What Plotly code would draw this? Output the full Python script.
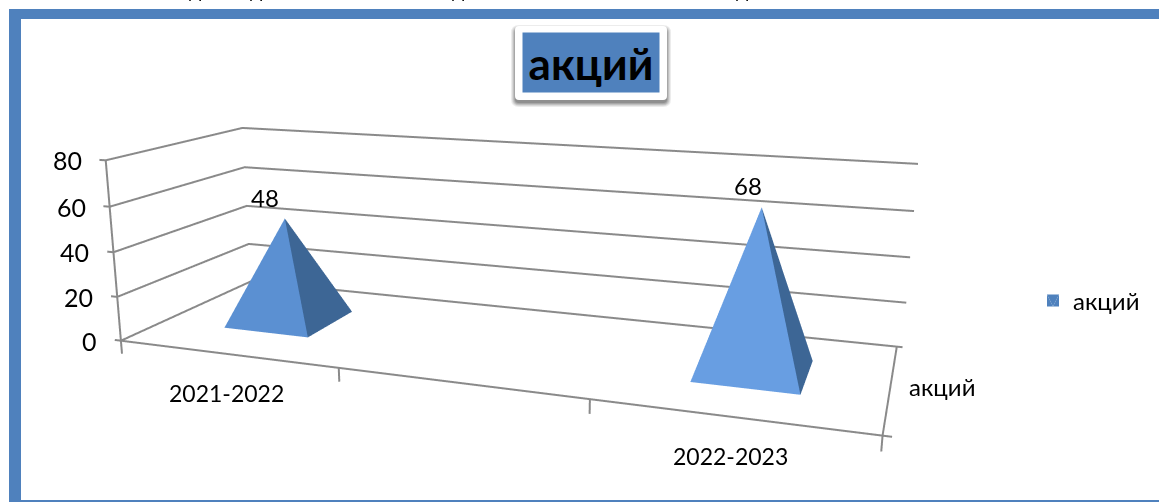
import plotly.graph_objects as go

categories = ["2021-2022", "", "2022-2023"]
values = [48, None, 68]
series_name = "акций"
z_ticks = [0, 20, 40, 60, 80]
top_fragments = [187, 248, 458, 750]

W, H = 1159, 502
FONT = "Lato, Carlito, Calibri, 'Noto Sans', sans-serif"
GRAY = "#8A8A8A"
BLUE = "#4F81BD"

# The scene is larger than the window and offset so its perspective matches the reference camera.
FW, FH, OX, OY = 1296, 999, -137, -232

HALF_W, HALF_D = 0.2, 0.2
xs, ys, zs, ii, jj, kk, fc = [], [], [], [], [], [], []
FRONT_SHADES = ["#5B90D2", "#5B90D2", "#689EE2"]
for idx, v in enumerate(values):
    if v is None:
        continue
    b = len(xs)
    xs += [idx - HALF_W, idx + HALF_W, idx + HALF_W, idx - HALF_W, idx]
    ys += [-HALF_D, -HALF_D, HALF_D, HALF_D, 0]
    zs += [0, 0, 0, 0, v]
    for a, c, col in ((0, 1, FRONT_SHADES[idx]), (1, 2, "#3D6695"), (2, 3, "#3D6695"), (3, 0, FRONT_SHADES[idx])):
        ii.append(b + a); jj.append(b + c); kk.append(b + 4); fc.append(col)

fig = go.Figure(go.Mesh3d(
    x=xs, y=ys, z=zs, i=ii, j=jj, k=kk, facecolor=fc, flatshading=True,
    showlegend=False, showscale=False, hoverinfo="skip",
    lighting=dict(ambient=1, diffuse=0, specular=0, fresnel=0, roughness=1),
))
ap = next(i for i, v in enumerate(values) if v is not None)
fig.add_trace(go.Mesh3d(x=[ap]*3, y=[0]*3, z=[values[ap]]*3, i=[0], j=[1], k=[2], color=BLUE, name=series_name,
                        showlegend=True, showscale=False, hoverinfo="skip"))

lx, ly, lz = [], [], []
def seg(*pts):
    for q in pts:
        lx.append(q[0]); ly.append(q[1]); lz.append(q[2])
    lx.append(None); ly.append(None); lz.append(None)
X0, X1 = -0.5, len(categories) - 0.5
for t in z_ticks:
    seg((X0 - 0.03, -0.5, t), (X0, -0.5, t), (X0, 0.5, t), (X1, 0.5, t), (X1 + 0.022, 0.5, t))
seg((X0, -0.5, z_ticks[0]), (X0, -0.5, z_ticks[-1]))
seg((X1 + 0.03, -0.5, 0), (X0, -0.5, 0))
seg((X1, -0.5, 0), (X1, 0.5, 0))
for k in range(len(categories) + 1):
    seg((X0 + k, -0.5, 0), (X0 + k, -0.5, -6))
fig.add_trace(go.Scatter3d(x=lx, y=ly, z=lz, mode="lines", line=dict(color=GRAY, width=4),
                           showlegend=False, hoverinfo="skip", connectgaps=False))

txt = dict(family=FONT, size=23, color="black")
wide = dict(family=FONT, size=24, color="black")
big = dict(family=FONT, size=25, color="black")
scene_ann = []
for t in z_ticks:
    scene_ann.append(dict(x=X0, y=-0.5, z=t, text=str(t), showarrow=False, xanchor="right", xshift=-22, font=big))
for idx, c in enumerate(categories):
    if c:
        scene_ann.append(dict(x=idx, y=-0.5, z=0, text=c, showarrow=False, yanchor="top", yshift=-23, font=txt))
scene_ann.append(dict(x=X1, y=0, z=0, text=series_name, showarrow=False, xanchor="left", xshift=17, font=wide))
for idx, v in enumerate(values):
    if v is not None:
        scene_ann.append(dict(x=idx, y=0, z=v, text=str(v), showarrow=False, yanchor="bottom", yshift=5,
                              xshift=-20 if idx == 0 else -14, font=wide))

off = dict(visible=False, autorange=False)
fig.update_layout(
    width=FW, height=FH, margin=dict(l=0, r=0, t=0, b=0), paper_bgcolor="white",
    scene=dict(
        domain=dict(x=[0, 1], y=[0, 1]),
        aspectmode="manual", aspectratio=dict(x=3.4 / 3, y=0.3323 * 1.4, z=0.2491 * 1.25),
        xaxis=dict(range=[-0.7, 2.7], **off),
        yaxis=dict(range=[-0.7, 0.7], **off),
        zaxis=dict(range=[-10, 90], **off),
        camera=dict(eye=dict(x=0.5348, y=-1.4657, z=0.3824), center=dict(x=-0.9093, y=2.5475, z=-0.7117),
                    up=dict(x=-0.0020, y=0.0018, z=1), projection=dict(type="perspective")),
        annotations=scene_ann,
    ),
    legend=dict(x=(1033 - OX) / FW, y=1 - (301 - OY) / FH, yanchor="middle", xanchor="left", font=wide,
                bgcolor="rgba(0,0,0,0)"),
)

def PX(x):
    return (x - OX) / FW
def PY(y):
    return 1 - (y - OY) / FH
def px_rect(x0, y0, x1, y1, **kw):
    fig.add_shape(type="rect", xref="paper", yref="paper", x0=PX(x0), x1=PX(x1), y0=PY(y0), y1=PY(y1),
                  layer="below", line_width=0, **kw)
def round_rect(x0, y0, x1, y1, r, color):
    xa, xb, ya, yb = x0 - OX, x1 - OX, y0 - OY, y1 - OY
    fig.add_shape(type="path", xref="paper", yref="paper", layer="below", line_width=0, fillcolor=color,
                  xsizemode="pixel", ysizemode="pixel", xanchor=0, yanchor=1,
                  path=(f"M {xa + r} {-ya} L {xb - r} {-ya} Q {xb} {-ya} {xb} {-ya - r} L {xb} {-yb + r} "
                        f"Q {xb} {-yb} {xb - r} {-yb} L {xa + r} {-yb} Q {xa} {-yb} {xa} {-yb + r} "
                        f"L {xa} {-ya - r} Q {xa} {-ya} {xa + r} {-ya} Z"))

px_rect(9, 9, W, 19, fillcolor=BLUE)
px_rect(9, 9, 21, H, fillcolor=BLUE)
px_rect(9, 500, W, H, fillcolor=BLUE)
for grow, alpha in ((4, 0.10), (3, 0.12), (2, 0.16), (1, 0.2), (0, 0.25)):
    round_rect(515 - grow, 29 - grow, 667 + grow, 103 + grow, 4 + grow, f"rgba(70,70,70,{alpha})")
round_rect(515, 26, 667, 100, 4, "white")

fig.add_annotation(xref="paper", yref="paper", x=PX(591), y=PY(62.5), yanchor="middle", text=series_name, showarrow=False,
                   width=136, height=59, bgcolor=BLUE, borderpad=0,
                   font=dict(family=FONT, size=44, color="black", weight="bold"))
for fx in top_fragments:
    fig.add_annotation(xref="paper", yref="paper", x=PX(fx), y=PY(4), yanchor="bottom", text="д", showarrow=False,
                       font=dict(family=FONT, size=20, color="black"))

post = ("var g=document.getElementById('{plot_id}');g.style.position='absolute';g.style.left='%dpx';g.style.top='%dpx';"
        "document.documentElement.style.overflow='hidden';document.body.style.overflow='hidden';document.body.style.margin='0';"
        % (OX, OY))
fig.write_html("out.html", post_script=post, div_id="chart", config=dict(displayModeBar=False))
